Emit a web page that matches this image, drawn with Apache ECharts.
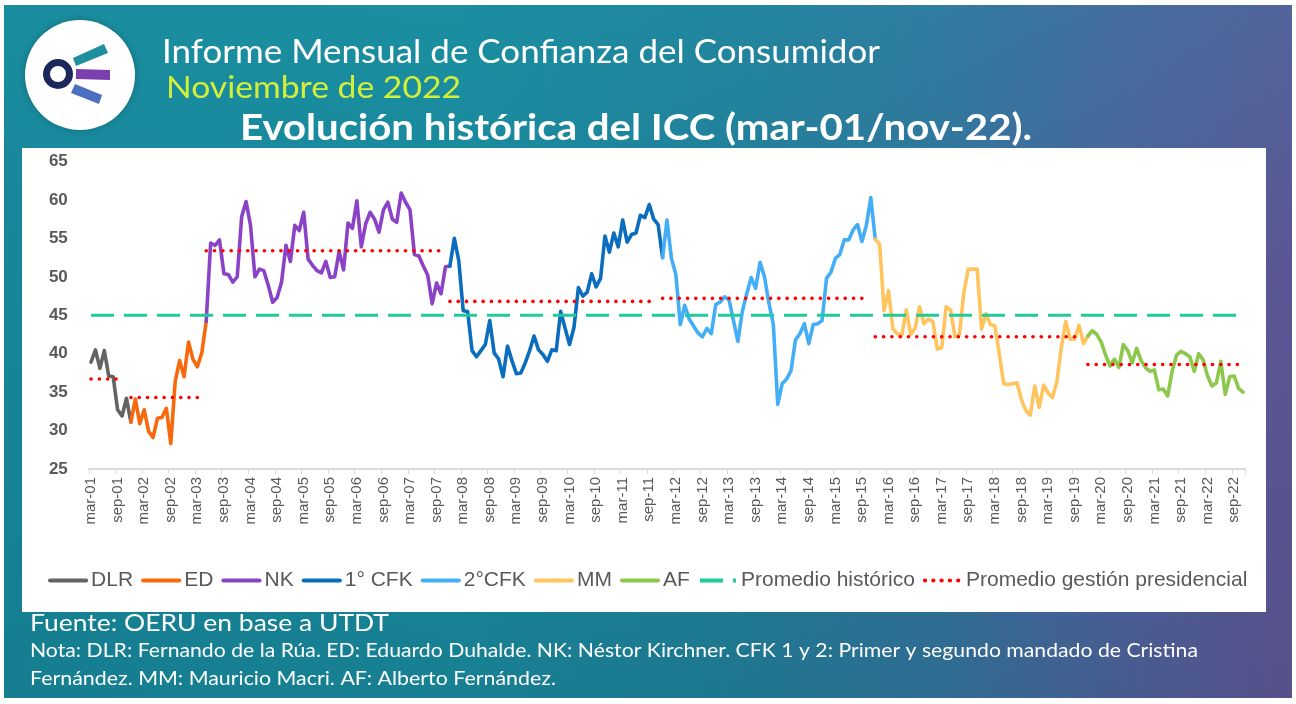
<!DOCTYPE html>
<html>
<head>
<meta charset="utf-8">
<script src="https://cdn.jsdelivr.net/npm/echarts@6/dist/echarts.min.js"></script>
<style>
html,body{margin:0;padding:0;background:#fff;}
#wrap{position:relative;width:1296px;height:704px;overflow:hidden;background:#fff;}
#bg{position:absolute;left:4px;top:5px;width:1288px;height:693px;
 background:linear-gradient(90deg,#168699 0%,#18889b 35%,#1f7f98 55%,#30739a 72%,#4a6299 86%,#5c5593 100%);}
#bgv{position:absolute;left:4px;top:5px;width:1288px;height:693px;
 background:linear-gradient(180deg,rgba(40,170,185,0.18) 0%,rgba(0,0,0,0) 40%,rgba(0,0,0,0.06) 100%);}
#panel{position:absolute;left:22px;top:148px;width:1244px;height:464px;background:#fff;}
#chart{position:absolute;left:0;top:0;width:1296px;height:704px;}
</style>
</head>
<body>
<div id="wrap"><div id="bg"></div><div id="bgv"></div><div id="panel"></div><div id="chart"></div></div>
<script>
// ---- Data ----
const mesesAbrev = ['ene','feb','mar','abr','may','jun','jul','ago','sep','oct','nov','dic'];
const categorias = [];
(function(){ let y = 2001, m = 2; while (y < 2022 || (y === 2022 && m <= 10)) { categorias.push(mesesAbrev[m] + '-' + String(y % 100).padStart(2,'0')); m++; if (m === 12) { m = 0; y++; } } })();

const dlr = [38.9, 40.5, 38.1, 40.4, 37.1, 37.0, 32.7, 31.9, 34.2, 31.1];
const ed = [34.1, 30.9, 32.7, 29.9, 29.1, 31.6, 31.7, 32.9, 28.3, 36.4, 39.1, 37.0, 41.5, 39.3, 38.3, 40.1, 44.2];
const nk = [54.4, 54.1, 54.8, 50.4, 50.3, 49.3, 50.0, 57.8, 59.8, 56.7,
            50.0, 51.0, 50.8, 48.9, 46.7, 47.3, 49.3, 54.1, 52.0, 56.7,
            56.0, 58.4, 52.3, 51.5, 50.8, 50.5, 52.0, 49.9, 50.0, 53.3,
            50.9, 57.0, 56.3, 59.9, 53.9, 56.9, 58.4, 57.5, 55.8, 58.7,
            59.7, 57.5, 57.1, 60.9, 59.7, 58.7, 52.9, 52.7, 51.4, 50.2,
            46.5, 49.2, 47.8, 51.3, 51.4];
const cfk1 = [55.0, 52.1, 45.6, 45.5, 40.4, 39.6, 40.4, 41.2, 44.3, 40.1,
              39.3, 37.0, 41.0, 39.1, 37.4, 37.5, 38.8, 40.4, 42.3, 40.5,
              39.9, 39.0, 40.5, 40.4, 45.5, 43.3, 41.2, 43.4, 48.6, 47.5,
              48.0, 50.4, 48.7, 49.8, 55.3, 53.2, 55.7, 53.9, 57.4, 54.5,
              55.5, 55.7, 58.0, 57.7, 59.4, 57.5, 56.8, 52.5];
const cfk2 = [57.4, 52.4, 50.3, 43.8, 46.3, 44.5, 43.6, 42.7, 42.2, 43.3,
              42.6, 46.4, 46.7, 47.4, 47.0, 44.3, 41.6, 45.5, 47.8, 49.9,
              48.5, 51.9, 50.0, 46.6, 43.8, 33.4, 36.1, 36.7, 37.8, 41.8,
              42.6, 43.9, 41.3, 43.8, 43.9, 44.3, 49.8, 50.6, 52.4, 52.9,
              54.8, 54.8, 56.1, 56.8, 54.6, 56.7, 60.3, 54.9];
const mm = [54.2, 45.6, 48.2, 43.2, 42.6, 42.4, 45.7, 42.5, 43.3, 46.1,
            43.9, 44.5, 44.2, 40.6, 40.8, 46.1, 45.7, 42.2, 42.5, 48.0,
            51.0, 51.0, 51.0, 43.2, 45.2, 43.8, 43.6, 40.0, 36.1, 36.0,
            36.1, 36.2, 34.0, 32.6, 32.0, 35.8, 33.0, 35.9, 34.9, 34.3,
            36.4, 40.8, 44.2, 41.9, 41.9, 43.7, 41.3, 42.3];
const af = [43.0, 42.5, 41.5, 39.8, 38.4, 39.3, 38.2, 41.2, 40.4, 38.8,
            40.7, 39.1, 38.2, 37.7, 37.9, 35.3, 35.4, 34.5, 37.7, 39.8,
            40.3, 40.0, 39.6, 37.7, 40.0, 39.2, 37.1, 35.8, 36.2, 39.0,
            34.7, 37.0, 37.1, 35.5, 35.0];

const promedioHistorico = 45.0;
const promedioGestion = [36.7, 34.3, 53.4, 46.8, 47.2, 42.2, 38.6];
const promedioDesde = ['mar-01', 'dic-01', 'may-03', 'dic-07', 'dic-11', 'dic-15', 'dic-19'];
const promedioHasta = ['sep-01', 'mar-03', 'oct-07', 'oct-11', 'oct-15', 'oct-19', 'nov-22'];

const yTicks = [25, 30, 35, 40, 45, 50, 55, 60, 65];

// ---- Build series ----
const gestiones = [
  {name: 'DLR', data: dlr, color: '#636363'},
  {name: 'ED', data: ed, color: '#f8690e'},
  {name: 'NK', data: nk, color: '#8b42c6'},
  {name: '1° CFK', data: cfk1, color: '#0a6dbd'},
  {name: '2°CFK', data: cfk2, color: '#43aef6'},
  {name: 'MM', data: mm, color: '#ffc45e'},
  {name: 'AF', data: af, color: '#8cc84b'}
];
const N = categorias.length;
const series = [];
let offset = 0, prevLast = null;
gestiones.forEach(g => {
  const arr = new Array(N).fill(null);
  if (offset > 0) arr[offset - 1] = prevLast;
  g.data.forEach((v, k) => { arr[offset + k] = v; });
  offset += g.data.length;
  prevLast = g.data[g.data.length - 1];
  series.push({
    type: 'line', name: g.name, data: arr, symbol: 'none', showSymbol: false,
    connectNulls: false, lineStyle: {color: g.color, width: 3.6, cap: 'round', join: 'round'},
    itemStyle: {color: g.color, opacity: 0}, z: 3, silent: true
  });
});
series.push({
  type: 'line', name: 'Promedio histórico', data: categorias.map(() => promedioHistorico),
  symbol: 'none', showSymbol: false,
  lineStyle: {color: '#1fcb9a', width: 3, type: [23, 10]}, itemStyle: {color: '#1fcb9a', opacity: 0}, z: 4, silent: true
});
const promArr = new Array(N).fill(null);
promedioGestion.forEach((v, k) => {
  const a = categorias.indexOf(promedioDesde[k]), b = categorias.indexOf(promedioHasta[k]);
  for (let i = a; i <= b; i++) promArr[i] = v;
});
series.push({
  type: 'line', name: 'Promedio gestión presidencial', data: promArr, connectNulls: false,
  symbol: 'none', showSymbol: false,
  lineStyle: {color: '#ff0000', width: 3.6, type: [0.1, 8.2], cap: 'round'}, itemStyle: {color: '#ff0000', opacity: 0}, z: 5, silent: true
});

// ---- Text helpers ----
const mctx = document.createElement('canvas').getContext('2d');
function fitText(text, font, x, y, width, fill, shadow) {
  mctx.font = font;
  const w = mctx.measureText(text).width;
  const st = {text: text, font: font, fill: fill, textAlign: 'left', align: 'left', textVerticalAlign: 'middle', verticalAlign: 'middle'};
  if (shadow) { st.shadowColor = 'rgba(0,0,0,0.45)'; st.shadowBlur = 3; st.shadowOffsetX = 1; st.shadowOffsetY = 1; }
  return {type: 'text', x: x, y: y, scaleX: width / w, scaleY: 1, silent: true, z: 10, style: st};
}

const graphics = [
  {type: 'circle', shape: {cx: 80, cy: 75, r: 55}, style: {fill: '#ffffff', shadowBlur: 6, shadowColor: 'rgba(0,0,0,0.25)'}, silent: true, z: 10},
  {type: 'polygon', shape: {points: [[73, 58], [104, 44], [108, 53], [76, 66]]}, style: {fill: '#1f8fa0'}, silent: true, z: 11},
  {type: 'polygon', shape: {points: [[76, 69], [110, 70], [110, 80], [76, 79]]}, style: {fill: '#7b3fae'}, silent: true, z: 11},
  {type: 'polygon', shape: {points: [[75, 84], [102, 95], [99, 104], [71, 93]]}, style: {fill: '#4a6fc2'}, silent: true, z: 11},
  {type: 'circle', shape: {cx: 58, cy: 74, r: 11.5}, style: {fill: '#ffffff', stroke: '#1c275c', lineWidth: 7}, silent: true, z: 12},
  fitText('Informe Mensual de Confianza del Consumidor', '32px Lato', 162, 53, 718, '#ffffff', true),
  fitText('Noviembre de 2022', '30px Lato', 166, 88, 295, '#d2f03a', true),
  fitText('Evolución histórica del ICC (mar-01/nov-22).', 'bold 36px Lato', 240, 128, 792, '#ffffff', true),
  fitText('Fuente: OERU en base a UTDT', '24px Lato', 30, 623, 359, '#ffffff', false),
  fitText('Nota: DLR: Fernando de la Rúa. ED: Eduardo Duhalde. NK: Néstor Kirchner. CFK 1 y 2: Primer y segundo mandado de Cristina', '19px Lato', 30, 651, 1168, '#ffffff', false),
  fitText('Fernández. MM: Mauricio Macri. AF: Alberto Fernández.', '19px Lato', 30, 679, 526, '#ffffff', false)
];

const chart = echarts.init(document.getElementById('chart'), null, {renderer: 'canvas', width: 1296, height: 704});
chart.setOption({
  animation: false,
  backgroundColor: 'transparent',
  graphic: graphics,
  grid: {left: 88.8, right: 50.8, top: 161.5, bottom: 235, containLabel: false, outerBoundsMode: 'none'},
  legend: {
    show: true, left: 43, top: 565, orient: 'horizontal',
    itemWidth: 36, itemHeight: 22, itemGap: 8,
    itemStyle: {opacity: 0},
    lineStyle: {width: 4.2},
    textStyle: {fontSize: 21, color: '#595959', fontFamily: 'Liberation Sans, Arial, sans-serif'},
    data: gestiones.map(g => g.name).concat(['Promedio histórico', 'Promedio gestión presidencial']),
    selectedMode: false
  },
  xAxis: {
    type: 'category', data: categorias, boundaryGap: true,
    axisLine: {show: true, lineStyle: {color: '#d9d9d9', width: 2}},
    axisTick: {show: true, interval: 5, length: 5, lineStyle: {color: '#d9d9d9', width: 1}},
    axisLabel: {show: true, interval: 5, rotate: 90, margin: 8, fontSize: 15, color: '#595959',
                fontFamily: 'Liberation Sans, Arial, sans-serif', hideOverlap: false},
    splitLine: {show: false}
  },
  yAxis: {
    type: 'value', min: yTicks[0], max: yTicks[yTicks.length - 1], interval: yTicks[1] - yTicks[0],
    axisLine: {show: false}, axisTick: {show: false}, splitLine: {show: false},
    axisLabel: {show: true, margin: 21, fontSize: 17, fontWeight: 'bold', color: '#595959',
                fontFamily: 'Liberation Sans, Arial, sans-serif'}
  },
  series: series
});
</script>
</body>
</html>
